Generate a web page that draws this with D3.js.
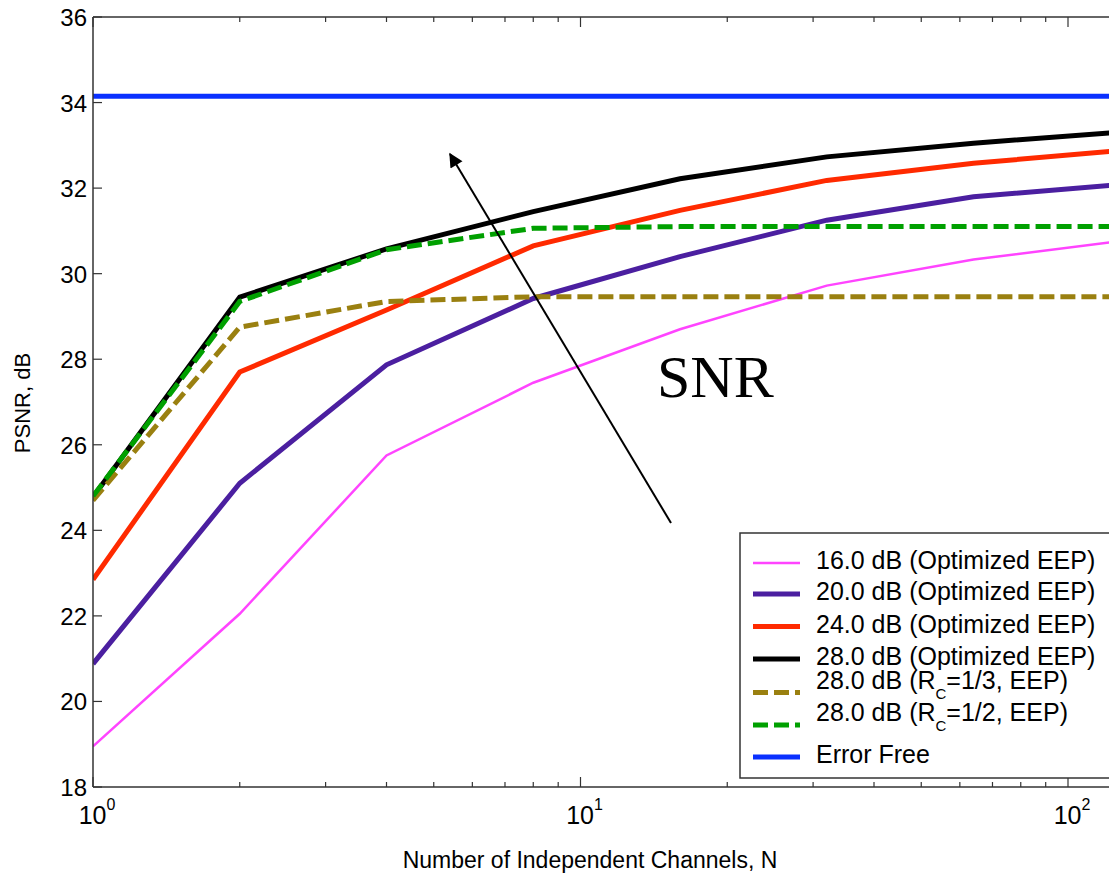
<!DOCTYPE html>
<html>
<head>
<meta charset="utf-8">
<script src="https://cdn.jsdelivr.net/npm/d3@7"></script>
<style>
body { margin: 0; background: #fff; }
svg { display: block; font-family: "Liberation Sans", Arial, sans-serif; }
</style>
</head>
<body>
<svg id="chart" width="1109" height="875"></svg>
<script>
// data
var channels = [1, 2, 4, 8, 16, 32, 64, 128];
var psnr16 = [18.95, 22.05, 25.75, 27.45, 28.7, 29.72, 30.33, 30.76];
var psnr20 = [20.88, 25.1, 27.87, 29.42, 30.4, 31.25, 31.8, 32.08];
var psnr24 = [22.85, 27.7, 29.15, 30.65, 31.48, 32.18, 32.58, 32.88];
var psnr28 = [24.78, 29.45, 30.58, 31.45, 32.22, 32.73, 33.05, 33.31];
var psnr28r13 = [24.7, 28.75, 29.35, 29.46, 29.46, 29.46, 29.46, 29.46];
var psnr28r12 = [24.8, 29.35, 30.56, 31.06, 31.1, 31.1, 31.1, 31.1];
var errorFree = 34.15;
var yTicks = [18, 20, 22, 24, 26, 28, 30, 32, 34, 36];
var xMajor = [1, 10, 100];
var xMinor = [2, 3, 4, 5, 6, 7, 8, 9, 20, 30, 40, 50, 60, 70, 80, 90];

var series = [
    {name: '16.0 dB (Optimized EEP)', values: psnr16, color: '#ff44ff', width: 2.5, dash: null},
    {name: '20.0 dB (Optimized EEP)', values: psnr20, color: '#4b1fa0', width: 5, dash: null},
    {name: '24.0 dB (Optimized EEP)', values: psnr24, color: '#ff2a00', width: 5, dash: null},
    {name: '28.0 dB (Optimized EEP)', values: psnr28, color: '#000000', width: 5, dash: null},
    {name: '28.0 dB (R|C|=1/3, EEP)', values: psnr28r13, color: '#9a8010', width: 5, dash: '15,6'},
    {name: '28.0 dB (R|C|=1/2, EEP)', values: psnr28r12, color: '#00a000', width: 5, dash: '15,6'},
    {name: 'Error Free', values: channels.map(function() { return errorFree; }), color: '#0a30ff', width: 5, dash: null}
];

var svg = d3.select('#chart');
var plotLeft = 93, plotTop = 17, plotBottom = 787, decade = 487.5;

var xScale = d3.scaleLog()
    .domain([1, 128])
    .range([plotLeft, plotLeft + Math.log10(128) * decade]);
var yScale = d3.scaleLinear()
    .domain([18, 36])
    .range([plotBottom, plotTop]);

svg.append('clipPath').attr('id', 'plot')
    .append('rect')
    .attr('x', plotLeft).attr('y', plotTop)
    .attr('width', xScale(128) - plotLeft).attr('height', plotBottom - plotTop);

var line = d3.line()
    .x(function(d, i) { return xScale(channels[i]); })
    .y(function(d) { return yScale(d); });

// draw back to front so black sits under the dashed ones like the original
var drawOrder = [6, 0, 1, 2, 3, 4, 5];
drawOrder.forEach(function(k) {
    var s = series[k];
    svg.append('path')
        .attr('clip-path', 'url(#plot)')
        .attr('d', line(s.values))
        .attr('fill', 'none')
        .attr('stroke', s.color)
        .attr('stroke-width', s.width)
        .attr('stroke-dasharray', s.dash);
});

// axes box
var axisColor = '#333';
svg.append('line').attr('x1', plotLeft).attr('x2', 1109).attr('y1', plotBottom).attr('y2', plotBottom)
    .attr('stroke', axisColor).attr('stroke-width', 1.5);
svg.append('line').attr('x1', plotLeft).attr('x2', 1109).attr('y1', plotTop).attr('y2', plotTop)
    .attr('stroke', axisColor).attr('stroke-width', 1.5);
svg.append('line').attr('x1', plotLeft).attr('x2', plotLeft).attr('y1', plotTop).attr('y2', plotBottom)
    .attr('stroke', axisColor).attr('stroke-width', 1.5);

svg.selectAll('.ytick')
    .data(yTicks)
    .enter()
    .append('line')
    .attr('class', 'ytick')
    .attr('x1', plotLeft).attr('x2', plotLeft + 9)
    .attr('y1', function(d) { return yScale(d); })
    .attr('y2', function(d) { return yScale(d); })
    .attr('stroke', axisColor).attr('stroke-width', 1.2);

svg.selectAll('.ylabel')
    .data(yTicks)
    .enter()
    .append('text')
    .attr('class', 'ylabel')
    .attr('x', plotLeft - 6)
    .attr('y', function(d) { return yScale(d) + 9; })
    .attr('text-anchor', 'end')
    .attr('font-size', 24)
    .text(function(d) { return d; });

[plotBottom, plotTop].forEach(function(yy) {
    var dir = yy == plotBottom ? -1 : 1;
    xMajor.forEach(function(v) {
        svg.append('line')
            .attr('x1', xScale(v)).attr('x2', xScale(v))
            .attr('y1', yy).attr('y2', yy + dir * 10)
            .attr('stroke', axisColor).attr('stroke-width', 1.2);
    });
    xMinor.forEach(function(v) {
        svg.append('line')
            .attr('x1', xScale(v)).attr('x2', xScale(v))
            .attr('y1', yy).attr('y2', yy + dir * 5)
            .attr('stroke', axisColor).attr('stroke-width', 1.2);
    });
});

xMajor.forEach(function(v) {
    var t = svg.append('text')
        .attr('x', xScale(v) + 4)
        .attr('y', 824)
        .attr('text-anchor', 'middle')
        .attr('font-size', 25);
    t.append('tspan').text('10');
    t.append('tspan')
        .attr('dy', -14)
        .attr('font-size', 16)
        .text(Math.round(Math.log10(v)));
});

svg.append('text')
    .attr('x', 590)
    .attr('y', 868)
    .attr('text-anchor', 'middle')
    .attr('font-size', 23)
    .text('Number of Independent Channels, N');

svg.append('text')
    .attr('transform', 'translate(30,403) rotate(-90)')
    .attr('text-anchor', 'middle')
    .attr('font-size', 22)
    .text('PSNR, dB');

// arrow + SNR annotation
svg.append('defs').append('marker')
    .attr('id', 'head')
    .attr('viewBox', '0 0 10 10')
    .attr('refX', 9).attr('refY', 5)
    .attr('markerWidth', 11).attr('markerHeight', 7)
    .attr('markerUnits', 'strokeWidth')
    .attr('orient', 'auto')
    .append('path')
    .attr('d', 'M0,0 L10,5 L0,10 z')
    .attr('fill', '#000');

svg.append('line')
    .attr('x1', 671).attr('y1', 523)
    .attr('x2', 450).attr('y2', 154)
    .attr('stroke', '#000').attr('stroke-width', 2)
    .attr('marker-end', 'url(#head)');

svg.append('text')
    .attr('x', 657)
    .attr('y', 397)
    .attr('font-family', '"Liberation Serif", "Times New Roman", serif')
    .attr('font-size', 60)
    .text('SNR');

// legend
var legend = svg.append('g');
legend.append('rect')
    .attr('x', 740).attr('y', 533)
    .attr('width', 400).attr('height', 245)
    .attr('fill', '#fff')
    .attr('stroke', axisColor).attr('stroke-width', 1.5);

var lineYs = [563, 594, 626.5, 659, 692.5, 725, 757];
series.forEach(function(s, i) {
    legend.append('line')
        .attr('x1', 753).attr('x2', 800)
        .attr('y1', lineYs[i]).attr('y2', lineYs[i])
        .attr('stroke', s.color)
        .attr('stroke-width', s.width)
        .attr('stroke-dasharray', s.dash);
    var parts = s.name.split('|');
    var t = legend.append('text')
        .attr('x', 816)
        .attr('y', parts.length > 1 ? lineYs[i] - 4 : lineYs[i] + 6)
        .attr('font-size', 25);
    if (parts.length > 1) {
        t.append('tspan').text(parts[0]);
        t.append('tspan').attr('dy', 10).attr('font-size', 15).text(parts[1]);
        t.append('tspan').attr('dy', -10).text(parts[2]);
    } else {
        t.text(s.name);
    }
});
</script>
</body>
</html>
